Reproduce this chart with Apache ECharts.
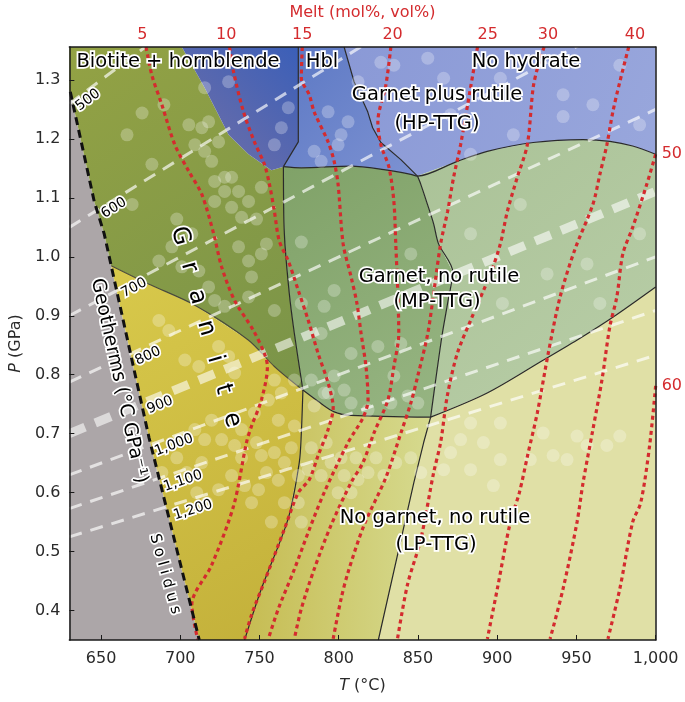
<!DOCTYPE html>
<html>
<head>
<meta charset="utf-8">
<script src="https://cdn.jsdelivr.net/npm/echarts@6/dist/echarts.min.js"></script>
<style>
  html, body { margin: 0; padding: 0; background: #fff; }
  #chart { width: 685px; height: 702px; }
</style>
</head>
<body>
<div id="chart"></div>
<script>
// axis ticks
const tempTicks = [650, 700, 750, 800, 850, 900, 950, 1000];
const pressTicks = [0.4, 0.5, 0.6, 0.7, 0.8, 0.9, 1.0, 1.1, 1.2, 1.3];

// melt isopleth labels (top axis at T, right axis at P)
const meltTopAt = [676, 729, 777, 834, 894, 932, 987];
const meltTopLabels = ['5', '10', '15', '20', '25', '30', '40'];
const meltRightAt = [1.174, 0.781];
const meltRightLabels = ['50', '60'];

// phase boundaries, [T (°C), P (GPa)]
const solidusUpper = [[630.6, 1.28], [645.7, 1.094], [652, 1.039], [656.4, 0.985]];
const solidusLower = [[656.4, 0.985], [680.3, 0.693], [712, 0.35]];
const blueEdge = [[701, 1.356], [715.4, 1.287], [730.5, 1.207], [743.1, 1.174], [757.5, 1.147], [765.1, 1.153]];
const hblWest = [[774.5, 1.356], [774.5, 1.195], [765.1, 1.153]];
const hpWest = [[803.4, 1.356], [809.7, 1.297], [818.3, 1.246], [821.4, 1.219], [826.6, 1.194], [839.2, 1.165], [849.7, 1.137]];
const garnetTopA = [[765.1, 1.153], [776.4, 1.151], [807.8, 1.154], [828.5, 1.148], [845.5, 1.140], [849.7, 1.137]];
const garnetTopB = [[849.7, 1.137], [874.8, 1.162], [893.7, 1.179], [922.7, 1.194], [954.2, 1.199], [971.1, 1.196], [985.5, 1.188], [1000, 1.174]];
const mpWest = [[765.1, 1.153], [765.7, 1.039], [768.8, 0.938], [772, 0.870], [777.4, 0.774]];
const mpSplit = [[849.7, 1.137], [851.8, 1.123], [856, 1.089], [859.9, 1.056], [863, 1.022], [871.9, 0.975], [868.7, 0.921], [865.4, 0.870], [861.8, 0.803], [858, 0.728]];
const mpBase = [[777.4, 0.774], [786.9, 0.755], [797.1, 0.737], [807.8, 0.731], [858, 0.728]];
const lpTop = [[858, 0.728], [893.7, 0.769], [929.2, 0.825], [952.3, 0.862], [973.2, 0.898], [1000, 0.949]];
const lpWest = [[858, 0.728], [853.6, 0.685], [847.4, 0.617], [825, 0.35]];
const midWest = [[777.4, 0.774], [776.4, 0.701], [775.1, 0.651], [768, 0.555], [751.2, 0.437], [740.6, 0.35]];
const graniteTop = [[656.4, 0.985], [680, 0.954], [709.2, 0.918], [742.9, 0.859], [759.4, 0.814], [777.4, 0.774]];

// melt isopleths (mol%)
const melt5 = [[678.4, 1.356], [682.1, 1.308], [688.4, 1.258], [696.6, 1.190], [705.4, 1.145], [713.6, 1.106], [721.1, 1.039], [726.1, 0.983], [734.3, 0.926], [746.2, 0.875], [753.1, 0.836], [755, 0.814], [751.2, 0.757], [745, 0.713], [741.8, 0.685], [733.7, 0.578], [719.8, 0.477], [707.3, 0.410], [711, 0.351]];
const melt10 = [[731.1, 1.356], [733.7, 1.313], [739.9, 1.246], [746.8, 1.195], [753.1, 1.157], [756.3, 1.123], [759.4, 1.077], [762.5, 1.027], [768.2, 0.993], [774.5, 0.943], [780.8, 0.892], [787, 0.836], [793.3, 0.786], [796.5, 0.744], [793.3, 0.707], [787, 0.663], [781.4, 0.622], [774.5, 0.600], [765.7, 0.538], [753.1, 0.449], [745, 0.393], [740.6, 0.352]];
const melt15 = [[777, 1.356], [776.4, 1.303], [781.4, 1.275], [784.5, 1.246], [793.3, 1.195], [797.1, 1.162], [799.6, 1.123], [802.8, 1.022], [807.8, 0.966], [811.5, 0.921], [814.1, 0.870], [817.2, 0.814], [818.5, 0.757], [815.3, 0.727], [805.9, 0.685], [790.8, 0.600], [780.8, 0.533], [772, 0.470], [761.9, 0.403], [755.6, 0.352]];
const melt20 = [[832.9, 1.356], [829.8, 1.292], [824.7, 1.229], [826.6, 1.190], [831.7, 1.152], [834.8, 1.094], [836, 1.022], [837.3, 0.938], [837.9, 0.870], [834.8, 0.814], [831, 0.757], [822.2, 0.701], [815.3, 0.651], [807.8, 0.617], [795.2, 0.545], [784.5, 0.470], [776.4, 0.403], [772, 0.352]];
const melt25 = [[887.6, 1.356], [883.2, 1.287], [876.9, 1.190], [872.5, 1.135], [868.7, 1.077], [864.3, 1.022], [859.9, 0.938], [856.2, 0.870], [849.9, 0.798], [845.5, 0.752], [839.2, 0.701], [829.8, 0.626], [816, 0.545], [805.9, 0.465], [801.5, 0.420], [796.5, 0.352]];
const melt30 = [[929.6, 1.356], [925.9, 1.325], [922.7, 1.287], [919, 1.190], [912.7, 1.135], [906.4, 1.077], [902, 1.022], [895.7, 0.971], [883.2, 0.892], [874.8, 0.836], [868.5, 0.764], [864.3, 0.685], [859.9, 0.634], [851.8, 0.521], [843.4, 0.444], [837.1, 0.352]];
const melt40 = [[983, 1.356], [977.4, 1.297], [973, 1.246], [969.2, 1.190], [964.8, 1.140], [960.4, 1.089], [949.1, 1.013], [939.7, 0.932], [932.2, 0.836], [925.3, 0.735], [919.6, 0.668], [914, 0.600], [908.3, 0.550], [900.1, 0.437], [893.8, 0.352]];
const melt50 = [[1000, 1.174], [994.4, 1.123], [985.5, 1.050], [979.3, 1.005], [975.5, 0.932], [971.1, 0.882], [966.1, 0.791], [960.4, 0.707], [954.2, 0.617], [950.4, 0.550], [941.6, 0.437], [933.4, 0.352]];
const melt60 = [[1000, 0.781], [996.2, 0.680], [990.6, 0.583], [985.5, 0.550], [977.4, 0.437], [969.9, 0.352]];

// geotherms (°C/GPa), end points
const geo500 = [[630, 1.26], [690, 1.38]];
const geo600 = [[630, 1.05], [830, 1.383]];
const geo700 = [[630, 0.90], [960, 1.371]];
const geo800 = [[630, 0.7875], [1000, 1.25]];
const geo900 = [[630, 0.70], [1000, 1.111]];
const geo1000 = [[630, 0.63], [1000, 1.0]];
const geo1100 = [[630, 0.573], [1000, 0.909]];
const geo1200 = [[630, 0.525], [1000, 0.833]];

// individual samples
const samples = [
  [675.9, 1.244], [666.4, 1.207], [689.7, 1.258], [705.4, 1.224], [713.6, 1.219], [717.9, 1.229], [709.2, 1.190], [715.4, 1.179],
  [724.2, 1.195], [719.8, 1.162], [728, 1.135], [732.4, 1.135], [721.7, 1.128], [728, 1.111], [736.8, 1.111], [721.7, 1.094],
  [732.4, 1.084], [738.7, 1.067], [743.1, 1.094], [751.2, 1.118], [715.4, 1.287], [730.5, 1.297], [759.4, 1.190], [768.2, 1.253],
  [763.8, 1.219], [793.3, 1.246], [805.9, 1.229], [801.5, 1.207], [784.5, 1.179], [788.9, 1.162], [822.2, 1.275],
  [799.6, 1.190], [812.2, 1.297], [826.6, 1.330], [856.2, 1.337], [866.2, 1.303], [902, 1.303], [910.2, 1.207], [941.6, 1.275],
  [941.6, 1.238], [960.4, 1.258], [908.3, 1.329], [834.8, 1.325],
  [824.7, 0.848], [803.4, 0.774], [807.8, 0.752], [818.5, 0.740], [832.9, 0.752], [843.6, 0.764], [849.9, 0.752], [782.7, 0.791],
  [793.3, 0.769], [834.8, 0.798], [931.5, 0.971], [956.7, 0.988], [903.3, 0.921], [989.9, 1.039],
  [751.2, 0.663], [759.4, 0.668], [765.7, 0.651], [774.5, 0.629], [780.8, 0.639], [788.9, 0.629], [795.2, 0.651], [803.4, 0.629],
  [812.2, 0.622], [818.5, 0.634], [828.5, 0.629], [807.8, 0.600], [799.6, 0.600], [749.4, 0.605], [740.6, 0.612], [732.4, 0.629],
  [724.2, 0.605], [745, 0.583], [765.7, 0.583], [774.5, 0.583], [761.9, 0.621],
  [759.4, 0.791], [763.8, 0.769], [772, 0.791], [746.8, 0.735], [755.6, 0.757], [738.7, 0.707], [719.8, 0.723], [709.2, 0.707],
  [715.4, 0.690], [726.1, 0.690], [734.3, 0.680], [761.9, 0.723], [772, 0.713], [784.5, 0.747], [790.8, 0.769], [797.1, 0.798],
  [694.7, 1.017], [686.5, 0.993], [701, 0.983], [711.7, 0.976], [736.8, 1.017], [743.1, 0.993], [751.2, 1.005], [745, 0.966],
  [743.1, 0.932], [721.7, 0.926], [717.9, 0.949], [728, 0.916], [759.4, 0.909], [776.4, 1.025], [790.8, 0.916], [797.1, 0.943],
  [686.5, 0.892], [692.8, 0.875], [702.9, 0.825], [711.7, 0.814], [730.5, 0.831], [734.3, 0.803], [724.2, 0.848],
  [883.2, 0.718], [902, 0.718], [876.9, 0.690], [891.3, 0.685], [902, 0.656], [870.6, 0.668], [866.2, 0.639], [883.2, 0.639],
  [920.9, 0.656], [929, 0.701], [950.4, 0.696], [956.7, 0.680], [969.2, 0.680], [977.4, 0.696], [944.1, 0.656], [897.6, 0.612],
  [935.3, 0.663],
  [688.4, 0.634], [697.8, 0.659], [704.1, 0.634], [713.6, 0.651], [710.4, 0.600], [716.7, 0.583], [738.7, 0.659], [748.1, 0.685],
  [754.4, 0.634], [770.1, 0.676], [782.7, 0.676], [792.1, 0.685], [801.5, 0.659], [810.9, 0.659], [823.5, 0.659], [836, 0.651],
  [845.5, 0.659], [851.8, 0.634], [776.4, 0.550], [757.5, 0.550],
  [682.1, 1.157], [669.6, 1.089], [697.8, 1.064], [707.3, 1.039], [748.1, 1.064], [754.4, 1.022],
  [870.6, 1.241], [883.2, 1.174], [977.4, 1.325], [989.9, 1.224],
  [776.4, 0.921], [788.9, 0.870], [807.8, 0.836], [839.2, 0.853], [845.5, 1.005],
  [883.2, 1.039], [914.6, 1.089], [964.8, 0.921]
];

const rev = a => a.slice().reverse();
const grad = (x, y, x2, y2, c0, c1) => ({
  type: 'linear', x, y, x2, y2,
  colorStops: [{ offset: 0, color: c0 }, { offset: 1, color: c1 }]
});

const regions = [
  { pts: [[630, 1.28]].concat(solidusUpper, solidusLower, [[630, 0.35]]), fill: '#aca6a8' },
  { pts: [[630, 1.356]].concat(blueEdge, mpWest, rev(graniteTop), rev(solidusUpper), [[630, 1.28]]), fill: grad(0, 0, 1, 1, '#93a244', '#7a9449') },
  { pts: blueEdge.concat(rev(hblWest)), fill: grad(0, 1, 1, 0, '#7470a6', '#3b5fb8') },
  { pts: hblWest.concat(garnetTopA, rev(hpWest)), fill: grad(0, 0, 1, 1, '#5c78c4', '#7d92d2') },
  { pts: hpWest.concat(garnetTopB, [[1000, 1.356]]), fill: grad(0, 0, 1, 1, '#8a99d6', '#99a7dc') },
  { pts: garnetTopA.concat(mpSplit, rev(mpBase), rev(mpWest)), fill: grad(0, 0, 1, 1, '#80a268', '#97b583') },
  { pts: garnetTopB.concat(rev(lpTop), rev(mpSplit)), fill: grad(0, 0, 1, 1, '#aac297', '#b9cea8') },
  { pts: lpTop.concat([[1000, 0.35]], rev(lpWest)), fill: '#e0e0a6' },
  { pts: mpBase.concat(lpWest, rev(midWest)), fill: grad(0, 0.5, 1, 0.5, '#c6bc52', '#d6da8f') },
  { pts: solidusLower.concat(rev(midWest), rev(graniteTop)), fill: grad(0, 0, 1, 1, '#d8c94b', '#c3b03a') }
];

const font = '"DejaVu Sans", "Liberation Sans", sans-serif';
const red = '#d42b2e';

function line(data, style, z, smooth) {
  return {
    type: 'line', data, symbol: 'none', silent: true, animation: false,
    smooth: smooth || false, lineStyle: style, z, clip: true
  };
}

const edgeStyle = { color: '#2a2a2a', width: 1.2 };
const meltStyle = { color: red, width: 3.2, type: [4, 3.5], cap: 'butt' };
const geoStyle = { color: 'rgba(255,255,255,0.66)', width: 3, type: [13, 9] };

function txt(text, x, y, size, extra) {
  return Object.assign({
    type: 'text', x, y, z: 100, silent: true,
    style: {
      text, font: size + 'px ' + font, fill: '#000',
      stroke: '#fff', lineWidth: 3.5, strokeFirst: true,
      align: 'center', verticalAlign: 'middle'
    }
  }, extra || {});
}

const granite = ['G', 'r', 'a', 'n', 'i', 't', 'e'];
const granitePos = [[180, 236], [189, 267], [197, 297], [206, 328], [215, 359], [223, 389], [232, 420]];

const graphics = [
  txt('Biotite + hornblende', 178, 62, 19.5),
  txt('Hbl', 322, 62, 19.5),
  txt('No hydrate', 526, 62, 19.5),
  txt('Garnet plus rutile', 437, 95, 19.5),
  txt('(HP-TTG)', 437, 124, 19.5),
  txt('Garnet, no rutile', 439, 277, 19.5),
  txt('(MP-TTG)', 437, 302, 19.5),
  txt('No garnet, no rutile', 435, 518, 19.5),
  txt('(LP-TTG)', 436, 545, 19.5),
  txt('Geotherms (°C GPa⁻¹)', 119, 381, 19, { rotation: -1.354 }),
  txt('S o l i d u s', 165, 574, 15, { rotation: -1.302 }),
  txt('500', 88, 100, 14, { rotation: 0.646 }),
  txt('600', 114, 208, 14, { rotation: 0.559 }),
  txt('700', 134, 288, 14, { rotation: 0.489 }),
  txt('800', 148, 356, 14, { rotation: 0.436 }),
  txt('900', 160, 405, 14, { rotation: 0.384 }),
  txt('1,000', 174, 445, 14, { rotation: 0.36 }),
  txt('1,100', 183, 481, 14, { rotation: 0.33 }),
  txt('1,200', 193, 510, 14, { rotation: 0.30 })
].concat(granite.map((c, i) => txt(c, granitePos[i][0], granitePos[i][1], 24, { rotation: -1.295 })));

const nearest = (arr, v) => arr.reduce((b, a, i) => Math.abs(a - v) < Math.abs(arr[b] - v) ? i : b, 0);

const axisLineStyle = { show: true, lineStyle: { color: '#1a1a1a', width: 1.5 } };

const option = {
  animation: false,
  backgroundColor: '#fff',
  grid: { left: 67, right: 29, top: 42, bottom: 62, show: false },
  xAxis: [
    {
      type: 'value', min: 630, max: 1000, z: 20,
      axisLine: axisLineStyle,
      axisTick: { show: true, inside: true, length: 5, customValues: tempTicks, lineStyle: { color: '#1a1a1a' } },
      axisLabel: {
        customValues: tempTicks, margin: 11, color: '#2a2a2a', fontSize: 16, fontFamily: font,
        formatter: v => v >= 1000 ? '1,000' : String(v)
      },
      splitLine: { show: false },
      name: '{i|T} (°C)', nameLocation: 'middle', nameGap: 38,
      nameTextStyle: { color: '#2a2a2a', fontSize: 16, fontFamily: font, rich: { i: { fontStyle: 'italic', fontSize: 16, fontFamily: font, color: '#2a2a2a' } } }
    },
    {
      type: 'value', min: 630, max: 1000, position: 'top', z: 20,
      axisLine: axisLineStyle,
      axisTick: { show: false },
      axisLabel: {
        customValues: meltTopAt, margin: 4, color: red, fontSize: 16, fontFamily: font,
        formatter: v => meltTopLabels[nearest(meltTopAt, v)]
      },
      splitLine: { show: false },
      name: 'Melt (mol%, vol%)', nameLocation: 'middle', nameGap: 26,
      nameTextStyle: { color: red, fontSize: 16, fontFamily: font }
    }
  ],
  yAxis: [
    {
      type: 'value', min: 0.35, max: 1.356, z: 20,
      axisLine: axisLineStyle,
      axisTick: { show: true, inside: true, length: 5, customValues: pressTicks, lineStyle: { color: '#1a1a1a' } },
      axisLabel: {
        customValues: pressTicks, margin: 9, color: '#2a2a2a', fontSize: 16, fontFamily: font,
        formatter: v => v.toFixed(1)
      },
      splitLine: { show: false },
      name: '{i|P} (GPa)', nameLocation: 'middle', nameGap: 38,
      nameTextStyle: { color: '#2a2a2a', fontSize: 16, fontFamily: font, rich: { i: { fontStyle: 'italic', fontSize: 16, fontFamily: font, color: '#2a2a2a' } } }
    },
    {
      type: 'value', min: 0.35, max: 1.356, position: 'right', z: 20,
      axisLine: axisLineStyle,
      axisTick: { show: false },
      axisLabel: {
        customValues: meltRightAt, margin: 6, color: red, fontSize: 16, fontFamily: font,
        formatter: v => meltRightLabels[nearest(meltRightAt, v)]
      },
      splitLine: { show: false }
    }
  ],
  series: [
    {
      type: 'custom', coordinateSystem: 'cartesian2d', silent: true, animation: false, clip: true, z: 1,
      data: regions.map((r, i) => [i]),
      renderItem: (params, api) => {
        const r = regions[params.dataIndex];
        return {
          type: 'polygon',
          shape: { points: r.pts.map(p => api.coord(p)) },
          style: { fill: r.fill, stroke: 'none' }
        };
      }
    },
    line(hblWest, edgeStyle, 3),
    line(hpWest, edgeStyle, 3),
    line(garnetTopA.concat(garnetTopB), edgeStyle, 3, 0.3),
    line(mpWest, edgeStyle, 3, 0.3),
    line(mpSplit, edgeStyle, 3, 0.3),
    line(mpBase, edgeStyle, 3, 0.3),
    line(lpTop, edgeStyle, 3, 0.3),
    line(lpWest, edgeStyle, 3),
    line(midWest, edgeStyle, 3, 0.3),
    line(graniteTop, { color: '#4a4a3a', width: 1.1 }, 3, 0.3),
    line(geo500, geoStyle, 4),
    line(geo600, geoStyle, 4),
    line(geo700, geoStyle, 4),
    line(geo800, geoStyle, 4),
    line(geo900, { color: 'rgba(255,255,255,0.58)', width: 9, type: [17, 11] }, 4),
    line(geo1000, geoStyle, 4),
    line(geo1100, geoStyle, 4),
    line(geo1200, geoStyle, 4),
    {
      type: 'scatter', data: samples, symbolSize: 13, silent: true, animation: false, z: 5,
      itemStyle: { color: 'rgba(255,255,255,0.33)' }
    },
    line(melt5, meltStyle, 6, 0.3),
    line(melt10, meltStyle, 6, 0.3),
    line(melt15, meltStyle, 6, 0.3),
    line(melt20, meltStyle, 6, 0.3),
    line(melt25, meltStyle, 6, 0.3),
    line(melt30, meltStyle, 6, 0.3),
    line(melt40, meltStyle, 6, 0.3),
    line(melt50, meltStyle, 6, 0.3),
    line(melt60, meltStyle, 6, 0.3),
    line(solidusUpper.concat(solidusLower), { color: '#111', width: 3, type: [8, 5] }, 7)
  ],
  graphic: { elements: graphics }
};

const chart = echarts.init(document.getElementById('chart'), null, { renderer: 'canvas' });
chart.setOption(option);
</script>
</body>
</html>
